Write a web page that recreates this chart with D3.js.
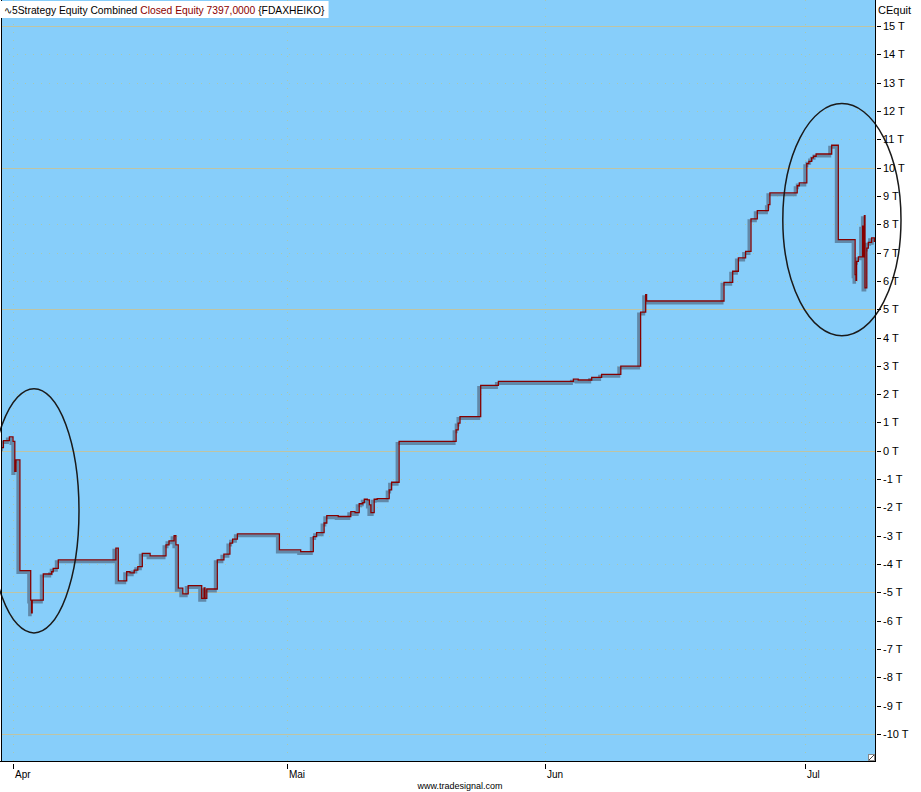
<!DOCTYPE html>
<html><head><meta charset="utf-8">
<script src="https://cdn.jsdelivr.net/npm/d3@7"></script>
<style>
html,body{margin:0;padding:0;background:#fff;}
svg{display:block;}
text{font-family:"Liberation Sans",Arial,sans-serif;}
</style></head>
<body><svg id="c" width="921" height="792"></svg>
<script>
// ---- data ----
const monthLabels = ["Apr","Mai","Jun","Jul"];
const monthBars = [0, 91.3, 177.3, 264];
const yTickValues = d3.range(-10000, 16000, 1000);
const majorGridValues = [-10000,-5000,0,5000,10000,15000];
const bars = [-3.8,-3.2,-1.2,0,0.6,1,2.3,5.9,6.2,6.4,10.1,12.9,13.4,15.1,34.3,35.1,37.9,39,40.4,41.6,43.1,45.7,51,52,53.7,54.3,55.1,56.6,58.4,62.9,63.7,64,64.6,68.1,70.3,72.3,73.2,74.8,88.8,95.9,100.1,101.2,103.7,104.6,108.4,112.6,114,115.4,116.6,117.1,118.1,118.8,119.3,120.4,121.4,125.4,126.2,128.7,147.7,148.4,149,155.9,161.8,186.8,188.4,192.9,196.2,202.6,209.2,210.9,211.2,237,239.9,241.8,244.2,246,248.1,251.8,252.3,261.4,262.1,264.6,265.3,266.2,266.8,267.7,272.9,275.1,280.7,281,281.2,281.8,283.2,283.5,283.8,284,284.6,285.1,286.2,287.1,287.6];
const closedEquity = [110,360,490,330,-730,-320,-4230,-5270,-5720,-5270,-4350,-4270,-4150,-3850,-3440,-4590,-4270,-4310,-4210,-4090,-3620,-3710,-3320,-3180,-3000,-3320,-4850,-5050,-4760,-5210,-4840,-5210,-4880,-3850,-3650,-3260,-3120,-2930,-3500,-3560,-3030,-2890,-2550,-2290,-2320,-2150,-2180,-1870,-1830,-1710,-1730,-1910,-2180,-1710,-1690,-1380,-1110,330,740,980,1210,2310,2450,2530,2500,2590,2700,2990,4900,5510,5290,5950,6340,6810,7040,8190,8480,8690,9110,9360,9460,10140,10220,10340,10400,10480,10790,7460,6220,6020,6690,6850,7930,6850,8300,5750,7160,7360,7520,7397,7397];
// annotation ellipses in data units [centerBar, centerValue, radiusBars, radiusValue]
const ellipses = [[7,-2120,15,4310],[276.3,8160,19.7,4100]];
const legendParts = [["∿5Strategy Equity Combined ","#000"],["Closed Equity 7397,0000","#8b0000"],[" {FDAXHEIKO}","#000"]];

// ---- layout ----
const svg = d3.select("#c");
const L = 1, R = 875, T = 0, B = 761;
const x = d3.scaleLinear().domain([0, 264]).range([13, 805]);
const y = d3.scaleLinear().domain([-10000, 15000]).range([734, 26]);

svg.append("defs").append("clipPath").attr("id","pc")
  .append("rect").attr("x",L).attr("y",T).attr("width",R-L).attr("height",B-T);

svg.append("rect").attr("x",L).attr("y",T).attr("width",R-L).attr("height",B-T).attr("fill","#87cefa");

const g = svg.append("g").attr("clip-path","url(#pc)");
// dotted grid
g.selectAll("line.dg").data(yTickValues.filter(v=>!majorGridValues.includes(v))).join("line")
  .attr("x1",L).attr("x2",R).attr("y1",d=>Math.round(y(d))+0.5).attr("y2",d=>Math.round(y(d))+0.5)
  .attr("stroke","#a8c8b0").attr("stroke-width",1).attr("stroke-dasharray","1,7");
g.selectAll("line.vg").data(monthBars).join("line")
  .attr("x1",d=>Math.round(x(d))+0.5).attr("x2",d=>Math.round(x(d))+0.5).attr("y1",T).attr("y2",B)
  .attr("stroke","#a8c8b0").attr("stroke-width",1).attr("stroke-dasharray","1,7");
g.selectAll("line.mg").data(majorGridValues).join("line")
  .attr("x1",L).attr("x2",R).attr("y1",d=>Math.round(y(d))+0.5).attr("y2",d=>Math.round(y(d))+0.5)
  .attr("stroke","#bec4a4").attr("stroke-width",1);

const pts = bars.map((b,i)=>({b, v: closedEquity[i]}));
const line = d3.line().x(d=>x(d.b)).y(d=>y(d.v)).curve(d3.curveStepAfter);
g.append("path").attr("d",line(pts)).attr("fill","none")
  .attr("stroke","#6189a9").attr("stroke-width",3).attr("transform","translate(-2,2)");
g.append("path").attr("d",line(pts)).attr("fill","none")
  .attr("stroke","#850000").attr("stroke-width",1.3);

// ellipses (not clipped on the right)
svg.selectAll("ellipse").data(ellipses).join("ellipse")
  .attr("cx",d=>x(d[0])).attr("cy",d=>y(d[1]))
  .attr("rx",d=>x(d[2])-x(0)).attr("ry",d=>y(0)-y(d[3]))
  .attr("fill","none").attr("stroke","#1a1a1a").attr("stroke-width",1.5);

// frame
svg.append("line").attr("x1",L+0.5).attr("x2",L+0.5).attr("y1",T).attr("y2",B).attr("stroke","#000");
svg.append("line").attr("x1",R+0.5).attr("x2",R+0.5).attr("y1",T).attr("y2",B+1).attr("stroke","#000");
svg.append("line").attr("x1",0).attr("x2",R+1).attr("y1",B+0.5).attr("y2",B+0.5).attr("stroke","#000");

// resize icon
svg.append("rect").attr("x",868.5).attr("y",754.5).attr("width",6).attr("height",6).attr("fill","#fff").attr("stroke","#888");
svg.append("line").attr("x1",869).attr("y1",760).attr("x2",874).attr("y2",755).attr("stroke","#444");

// right axis
const ya = svg.append("g");
ya.selectAll("line").data(yTickValues).join("line")
  .attr("x1",877).attr("x2",881).attr("y1",d=>Math.round(y(d))+0.5).attr("y2",d=>Math.round(y(d))+0.5).attr("stroke","#000");
ya.selectAll("text").data(yTickValues).join("text")
  .attr("x",883).attr("y",d=>y(d)+4).attr("font-size",11).attr("fill","#000")
  .text(d=>(d/1000)+" T");
svg.append("text").attr("x",878).attr("y",14).attr("font-size",11).text("CEquit");

// bottom axis
const xa = svg.append("g");
xa.selectAll("line").data(monthBars).join("line")
  .attr("x1",d=>Math.round(x(d))+0.5).attr("x2",d=>Math.round(x(d))+0.5).attr("y1",764).attr("y2",769).attr("stroke","#000");
xa.selectAll("text").data(monthLabels).join("text")
  .attr("x",(d,i)=>x(monthBars[i])+2).attr("y",778).attr("font-size",10).text(d=>d);
svg.append("text").attr("x",460).attr("y",789).attr("text-anchor","middle").attr("font-size",9).text("www.tradesignal.com");

// legend
const lg = svg.append("g");
const lgRect = lg.append("rect").attr("x",1).attr("y",1).attr("height",17).attr("fill","#fff");
const lt = lg.append("text").attr("x",4).attr("y",14).attr("font-size",10.3);
legendParts.forEach(p=>lt.append("tspan").attr("fill",p[1]).text(p[0]));
lgRect.attr("width", lt.node().getComputedTextLength()+7);
</script></body></html>
